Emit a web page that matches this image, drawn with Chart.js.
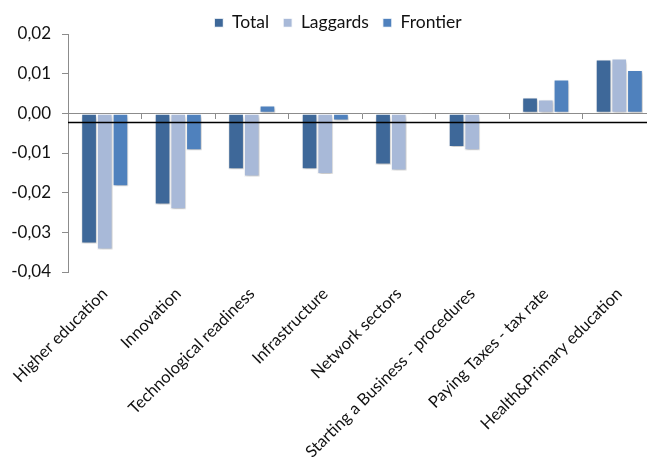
<!DOCTYPE html>
<html>
<head>
<meta charset="utf-8">
<script src="https://cdn.jsdelivr.net/npm/chart.js@4.4.1/dist/chart.umd.min.js"></script>
<style>
  html, body { margin: 0; padding: 0; background: #fff; overflow: hidden; }
  #wrap { width: 676px; height: 465px; }
</style>
</head>
<body>
<div id="wrap"><canvas id="chart"></canvas></div>
<script>
const categories = [
  "Higher education",
  "Innovation",
  "Technological readiness",
  "Infrastructure",
  "Network sectors",
  "Starting a Business - procedures",
  "Paying Taxes - tax rate",
  "Health&Primary education",
];
const total = [-0.0328, -0.0230, -0.0141, -0.0141, -0.0129, -0.0085, 0.0040, 0.0136];
const laggards = [-0.0343, -0.0242, -0.0159, -0.0153, -0.0144, -0.0093, 0.0035, 0.0138];
const frontier = [-0.0184, -0.0093, 0.0020, -0.0018, -0.0003, 0.0002, 0.0085, 0.0109];
const yMin = -0.04;
const yMax = 0.02;
const yStep = 0.01;
const referenceLevel = -0.0023;

const fontFamily = "Lato, 'Open Sans', sans-serif";

function formatTick(value) {
  const v = Math.abs(value) < 1e-9 ? 0 : value;
  return v.toFixed(2).replace(".", ",");
}

// soft drop shadow under the bars, like the spreadsheet original
const barShadow = {
  id: "barShadow",
  beforeDatasetsDraw(chart) {
    const ctx = chart.ctx;
    ctx.save();
    ctx.shadowColor = "rgba(0,0,0,0.28)";
    ctx.shadowBlur = 3;
    ctx.shadowOffsetX = 1;
    ctx.shadowOffsetY = 2;
  },
  afterDatasetsDraw(chart) {
    chart.ctx.restore();
  },
};

// horizontal black reference line across the plot
const referenceLine = {
  id: "referenceLine",
  afterDatasetsDraw(chart) {
    const { ctx, chartArea, scales } = chart;
    const y = scales.y.getPixelForValue(referenceLevel);
    ctx.save();
    ctx.strokeStyle = "#000";
    ctx.lineWidth = 1.5;
    ctx.beginPath();
    ctx.moveTo(chartArea.left, y);
    ctx.lineTo(chartArea.right, y);
    ctx.stroke();
    ctx.restore();
  },
};

// fixed legend height so the plot starts right under it
const legendFit = {
  id: "legendFit",
  beforeLayout(chart) {
    const legend = chart.legend;
    if (legend && !legend._fitPatched) {
      const fit = legend.fit.bind(legend);
      legend.fit = function () {
        fit();
        this.height = 34;
      };
      legend._fitPatched = true;
    }
  },
};

const barStyle = {
  borderColor: "#ffffff",
  borderWidth: 1,
  borderSkipped: false,
  barPercentage: 1,
  categoryPercentage: 0.64,
};

new Chart(document.getElementById("chart"), {
  type: "bar",
  data: {
    labels: categories,
    datasets: [
      { label: "Total", data: total, backgroundColor: "#3e6899", ...barStyle },
      { label: "Laggards", data: laggards, backgroundColor: "#a8b9d8", ...barStyle },
      { label: "Frontier", data: frontier, backgroundColor: "#4f81bd", ...barStyle },
    ],
  },
  options: {
    responsive: true,
    maintainAspectRatio: false,
    animation: false,
    layout: { padding: { left: 0, right: 0, top: 0, bottom: 0 } },
    plugins: {
      tooltip: { enabled: false },
      legend: {
        position: "top",
        labels: {
          color: "#111",
          font: { family: fontFamily, size: 17.5 },
          boxWidth: 9,
          boxHeight: 9,
          padding: 14,
        },
      },
    },
    scales: {
      x: {
        position: "bottom",
        grid: { display: false },
        border: { display: false },
        ticks: {
          color: "#111",
          font: { family: fontFamily, size: 16.5 },
          minRotation: 45,
          maxRotation: 45,
          autoSkip: false,
          padding: 4,
        },
        afterFit(scale) { scale.height = 193; },
      },
      xZero: {
        type: "category",
        position: { y: 0 },
        offset: true,
        grid: {
          offset: true,
          drawOnChartArea: false,
          drawTicks: true,
          tickLength: 5,
          color: "#8c8c8c",
        },
        border: { display: true, color: "#8c8c8c", width: 1 },
        ticks: { display: false },
      },
      y: {
        min: yMin,
        max: yMax,
        grid: {
          drawOnChartArea: false,
          drawTicks: true,
          tickLength: 6,
          color: "#8c8c8c",
        },
        border: { display: true, color: "#8c8c8c", width: 1 },
        ticks: {
          stepSize: yStep,
          color: "#111",
          font: { family: fontFamily, size: 17 },
          padding: 11,
          callback: (value) => formatTick(value),
        },
        afterFit(scale) { scale.width = 68; },
      },
      // empty right-hand gutter: the plot runs past the picture's right edge
      gutter: {
        type: "linear",
        position: "right",
        grid: { display: false },
        border: { display: false },
        ticks: { display: false },
        afterFit(scale) { scale.width = 20; },
      },
    },
  },
  plugins: [barShadow, referenceLine, legendFit],
});
</script>
</body>
</html>
